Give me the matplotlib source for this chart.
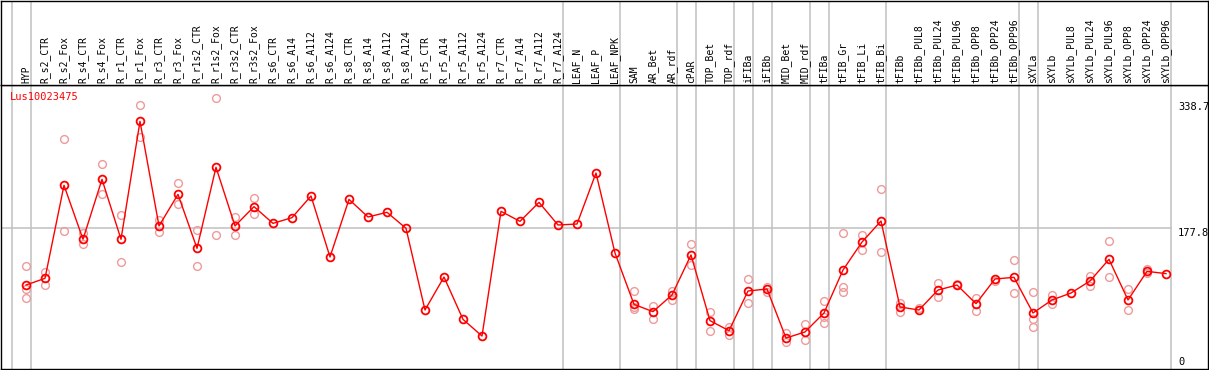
import matplotlib.pyplot as plt
import matplotlib.transforms as mtransforms

gene = "Lus10023475"

samples = ["HYP", "R_s2_CTR", "R_s2_Fox", "R_s4_CTR", "R_s4_Fox", "R_r1_CTR", "R_r1_Fox",
           "R_r3_CTR", "R_r3_Fox", "R_r1s2_CTR", "R_r1s2_Fox", "R_r3s2_CTR", "R_r3s2_Fox",
           "R_s6_CTR", "R_s6_A14", "R_s6_A112", "R_s6_A124", "R_s8_CTR", "R_s8_A14",
           "R_s8_A112", "R_s8_A124", "R_r5_CTR", "R_r5_A14", "R_r5_A112", "R_r5_A124",
           "R_r7_CTR", "R_r7_A14", "R_r7_A112", "R_r7_A124", "LEAF_N", "LEAF_P", "LEAF_NPK",
           "SAM", "AR_Bet", "AR_rdf", "cPAR", "TOP_Bet", "TOP_rdf", "iFIBa", "iFIBb",
           "MID_Bet", "MID_rdf", "tFIBa", "tFIB_Gr", "tFIB_Li", "tFIB_Bi", "tFIBb",
           "tFIBb_PUL8", "tFIBb_PUL24", "tFIBb_PUL96", "tFIBb_OPP8", "tFIBb_OPP24",
           "tFIBb_OPP96", "sXYLa", "sXYLb", "sXYLb_PUL8", "sXYLb_PUL24", "sXYLb_PUL96",
           "sXYLb_OPP8", "sXYLb_OPP24", "sXYLb_OPP96"]

means = [107.6, 115.9, 231.0, 164.2, 238.4, 164.2, 310.2, 180.7, 219.8, 153.0, 253.3,
         180.7, 204.6, 183.9, 191.0, 217.8, 142.3, 213.6, 191.8, 197.6, 177.8, 76.7,
         117.5, 65.1, 44.5, 198.8, 186.4, 209.9, 181.9, 183.1, 246.2, 147.2, 83.7, 74.6,
         95.3, 144.8, 63.5, 51.1, 100.2, 102.7, 42.0, 49.5, 73.0, 126.2, 160.8, 186.8,
         80.4, 76.7, 101.4, 107.6, 84.5, 115.1, 117.1, 73.0, 89.1, 97.7, 112.6, 139.4,
         89.1, 124.5, 121.7]

replicates = [[131.2, 102.3, 91.1], [123.3, 107.2], [287.9, 174.5], [171.6, 158.0],
              [257.0, 219.8], [194.3, 136.1], [330.4, 290.4], [188.1, 173.6],
              [233.5, 207.5], [175.3, 131.2], [338.7, 169.1], [192.2, 169.1],
              [215.3, 195.1], [], [], [], [], [], [], [], [], [], [], [], [],
              [], [], [], [], [], [], [],
              [100.2, 77.9, 81.0], [81.6, 65.6], [100.6, 89.1], [158.4, 132.0],
              [74.2, 50.7], [55.2, 45.8], [115.1, 85.4], [104.8, 99.4],
              [48.6, 36.7], [59.4, 39.6], [87.8, 68.4, 60.6], [172.0, 105.6, 99.4],
              [169.5, 150.5], [226.4, 148.5], [85.8, 73.8],
              [79.2], [110.1, 92.4], [108.9], [92.0, 75.5], [112.2], [138.2, 97.3],
              [99.0, 65.1, 55.2], [95.3, 83.7], [], [119.2, 106.0], [161.7, 117.5],
              [102.3, 76.7], [127.9, 122.1], []]

# sample index after which a gray separator is drawn
separators = [-1, 0, 28, 31, 34, 35, 37, 38, 39, 41, 42, 45, 52, 53, 60]

ref_value = 177.8
max_value = 338.7

W, H = 1209, 370
fig = plt.figure(figsize=(W / 100, H / 100), dpi=100)

xlim = ((1 - 26) / 19, (1208 - 26) / 19)
plot_top, plot_bot = 85, 369
ax = fig.add_axes([1 / W, (H - plot_bot) / H, 1207 / W, (plot_bot - plot_top) / H])
head = fig.add_axes([1 / W, (H - plot_top) / H, 1207 / W, (plot_top - 0.5) / H])

k = 1.2376  # value units per pixel
ax.set_ylim(ref_value - (plot_bot - 228.3) * k, ref_value + (228.3 - plot_top) * k)
for a in (ax, head):
    a.set_xlim(*xlim)
    a.set_xticks([])
    a.set_yticks([])
    for s in a.spines.values():
        s.set_color("black")
        s.set_linewidth(1.0)
    for i in separators:
        a.axvline(i + 0.25, color="#c0c0c0", lw=1.1, zorder=0)
head.set_ylim(0, 1)

ax.plot([xlim[0], separators[-1] + 0.25], [ref_value, ref_value], color="#c0c0c0",
        lw=1.1, zorder=0)

mono = "DejaVu Sans Mono"
for i, name in enumerate(samples):
    head.text(i, 0.02, name, rotation=90, ha="center", va="bottom", fontsize=7,
              family=mono, color="black")

rx, ry = [], []
for i, reps in enumerate(replicates):
    for v in reps:
        rx.append(i)
        ry.append(v)
ax.plot(rx, ry, "o", ls="none", ms=5.6, mfc="none", mec="#ee9a9a", mew=1.0, zorder=2)
ax.plot(range(len(samples)), means, "-o", color="red", lw=1.0, ms=5.6, mfc="none",
        mec="red", mew=1.3, zorder=3)

ax.text(9 / 1207, 1 - (97 - plot_top) / (plot_bot - plot_top), gene, transform=ax.transAxes,
        color="red", fontsize=7.5, family=mono, ha="left", va="center")

tr = mtransforms.blended_transform_factory(ax.transData, ax.transData)
lx = (1178 - 26) / 19
ax.text(lx, max_value - 4, f"{max_value}", transform=tr, fontsize=7.5, family=mono,
        ha="left", va="top", color="black")
ax.text(lx, ref_value, f"{ref_value}", transform=tr, fontsize=7.5, family=mono,
        ha="left", va="top", color="black")
ax.text(lx, 12, "0", transform=tr, fontsize=7.5, family=mono, ha="left", va="center",
        color="black")

fig.savefig("out.png", dpi=100)
